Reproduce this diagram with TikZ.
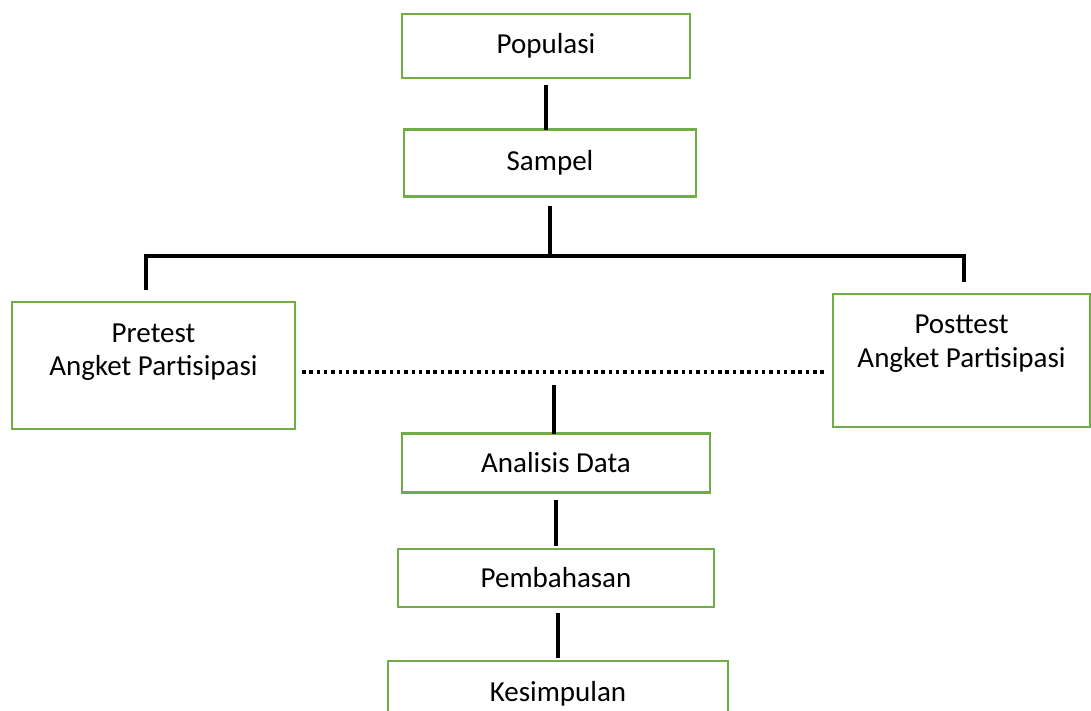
\documentclass[tikz,border=0pt]{standalone}
\usepackage{fontspec}
\setmainfont{Carlito}
\usepackage{tikz}
\definecolor{boxgreen}{RGB}{112,173,71}

\begin{document}
\begin{tikzpicture}
[x=1pt, y=-1pt,
font=\fontsize{29}{32}\selectfont,
box/.style={draw=boxgreen, line width=2.5pt, outer sep=0pt, inner sep=0pt},
link/.style={line width=4pt},
dotline/.style={line width=4pt, dash pattern=on 3.5pt off 3.8pt}]
\useasboundingbox (0,0) rectangle (1091,710);
\clip (0,0) rectangle (1091,710);

\node[box, minimum width=288pt, minimum height=64pt] (pop) at (546,46) {Populasi};
\node[box, minimum width=292pt, minimum height=67pt] (sam) at (550,163) {Sampel};
\node[box, minimum width=283pt, minimum height=127pt] (pre) at (153.5,365.5) {};
\node[align=center] (pretxt) at (153.5,352) {Pretest\\[1pt]Angket Partisipasi};
\node[box, minimum width=257pt, minimum height=133pt] (post) at (961.5,360.5) {};
\node[align=center] (posttxt) at (961.5,344) {Posttest\\[2pt]Angket Partisipasi};
\node[box, minimum width=308pt, minimum height=59pt] (ana) at (556,463) {Analisis Data};
\node[box, minimum width=316pt, minimum height=58pt] (pem) at (556,578) {Pembahasan};
\node[box, minimum width=340pt, minimum height=66pt] (kes) at (558,694) {Kesimpulan};

\coordinate (barL) at (146,256);
\coordinate (barR) at (964,256);
\coordinate (dotmid) at (554,372);

\draw[link, shorten <=7pt] (pop.south) -- (pop.south |- sam.north);
\draw[link, shorten <=9pt] (sam.south) -- (sam.south |- barL);
\draw[link, shorten <=12pt, shorten >=12pt] (pre.north -| barL) -- (barL) -- (barR) -- (post.north -| barR);
\draw[dotline, shorten <=7pt, shorten >=7pt] (pre.east |- dotmid) -- (post.west |- dotmid);
\draw[link, shorten <=13pt] (dotmid) -- (dotmid |- ana.north);
\draw[link, shorten <=7pt, shorten >=3pt] (ana.south) -- (pem.north);
\draw[link, shorten <=6pt, shorten >=3pt] (kes.north |- pem.south) -- (kes.north);
\end{tikzpicture}
\end{document}
